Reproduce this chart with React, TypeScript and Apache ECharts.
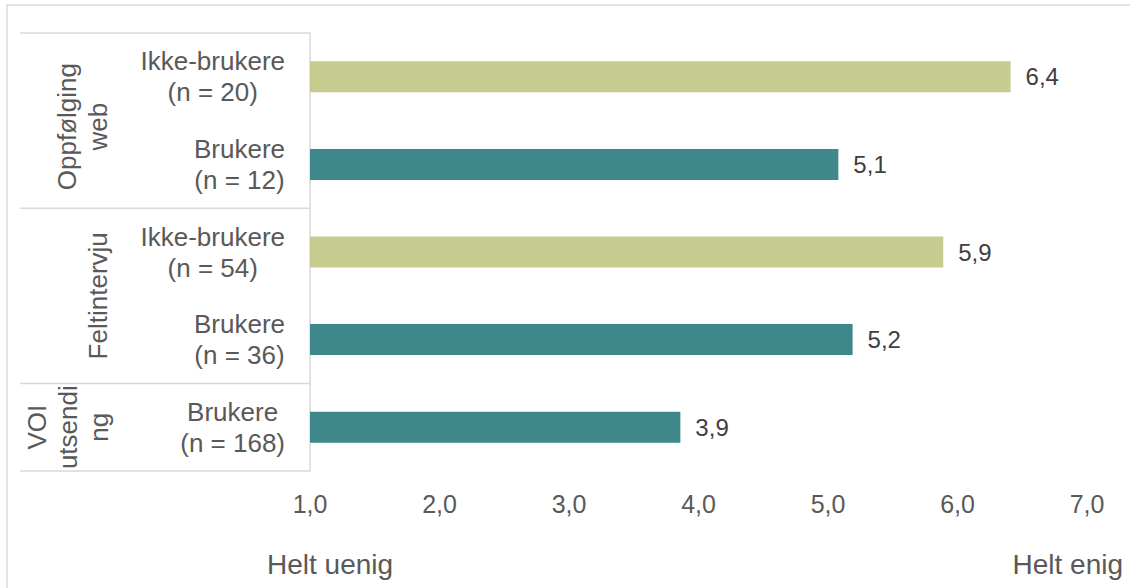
import React, { useEffect, useRef } from "react";
import * as echarts from "echarts";

const categories = [
  "Ikke-brukere\n(n = 20)",
  "Brukere\n(n = 12)",
  "Ikke-brukere\n(n = 54)",
  "Brukere\n(n = 36)",
  "Brukere\n(n = 168)",
];
const userType = ["ikke", "bruker", "ikke", "bruker", "bruker"];
const values = [6.41, 5.08, 5.89, 5.19, 3.86];
const groupNames = ["Oppfølging\nweb", "Feltintervju", "VOI\nutsendi\nng"];
const groupSizes = [2, 2, 1];
const groupLabelX = [82, 98, 68];
const axisMin = 1;
const axisMax = 7;
const axisInterval = 1;
const leftLabel = "Helt uenig";
const rightLabel = "Helt enig";

const COLORS: Record<string, string> = { ikke: "#C6CC8F", bruker: "#3E878A" };
const TEXT = "#595959";
const LINE = "#D9D9D9";
const FONT = "'Liberation Sans', Arial, sans-serif";

const GRID_LEFT = 310;
const GRID_TOP = 33;
const GRID_H = 438;
const GRID_RIGHT = 43;

const fmt = (v: number) => v.toFixed(1).replace(".", ",");

export default function App() {
  const ref = useRef<HTMLDivElement>(null);
  useEffect(() => {
    if (!ref.current) return;
    const chart = echarts.init(ref.current, undefined, { renderer: "svg" });
    const band = GRID_H / categories.length;
    const graphics: any[] = [
      {
        type: "rect",
        shape: { x: 7, y: 5, width: 1130, height: 620 },
        style: { fill: "none", stroke: LINE, lineWidth: 1.5 },
        silent: true,
      },
    ];
    let idx = 0;
    const bounds: number[] = [GRID_TOP];
    groupSizes.forEach((n, gi) => {
      const top = GRID_TOP + idx * band;
      const bottom = GRID_TOP + (idx + n) * band;
      bounds.push(bottom);
      graphics.push({
        type: "text",
        x: groupLabelX[gi],
        y: (top + bottom) / 2 + (gi === 0 ? 6 : 0),
        rotation: Math.PI / 2,
        style: {
          text: groupNames[gi],
          fill: TEXT,
          font: `26px ${FONT}`,
          fontSize: 26,
          fontFamily: FONT,
          lineHeight: 31,
          align: "center",
          verticalAlign: "middle",
          textAlign: "center",
          textVerticalAlign: "middle",
        },
        silent: true,
      });
      idx += n;
    });
    bounds.forEach((y) => {
      graphics.push({
        type: "line",
        shape: { x1: 20, y1: y, x2: GRID_LEFT, y2: y },
        style: { stroke: LINE, lineWidth: 1.5 },
        silent: true,
      });
    });
    graphics.push({
      type: "text",
      left: 267,
      top: 550,
      style: { text: leftLabel, fill: TEXT, fontSize: 28, fontFamily: FONT },
    });
    graphics.push({
      type: "text",
      right: 7,
      top: 550,
      style: { text: rightLabel, fill: TEXT, fontSize: 28, fontFamily: FONT },
    });

    chart.setOption({
      animation: false,
      backgroundColor: "#ffffff",
      grid: { left: GRID_LEFT, top: GRID_TOP, height: GRID_H, right: GRID_RIGHT, containLabel: false },
      xAxis: {
        type: "value",
        min: axisMin,
        max: axisMax,
        interval: axisInterval,
        axisLine: { show: false },
        axisTick: { show: false },
        splitLine: { show: false },
        axisLabel: {
          color: TEXT,
          fontSize: 25,
          fontFamily: FONT,
          margin: 20,
          formatter: (v: number) => fmt(v),
        },
      },
      yAxis: {
        type: "category",
        inverse: true,
        data: categories,
        axisLine: { show: true, lineStyle: { color: LINE, width: 1.5 } },
        axisTick: { show: false },
        axisLabel: {
          margin: 25,
          align: "right",
          color: TEXT,
          fontSize: 26,
          fontFamily: FONT,
          lineHeight: 31,
          formatter: (v: string) => v.split("\n").map((l) => `{c|${l}}`).join("\n"),
          rich: {
            c: { align: "center", color: TEXT, fontSize: 26, fontFamily: FONT, lineHeight: 31 },
          },
        },
      },
      series: [
        {
          type: "bar",
          barWidth: 31,
          data: values.map((v, i) => ({ value: v, itemStyle: { color: COLORS[userType[i]] } })),
          label: {
            show: true,
            position: "right",
            distance: 15,
            color: "#404040",
            fontSize: 24,
            fontFamily: FONT,
            formatter: (p: any) => fmt(p.value),
          },
        },
      ],
      graphic: graphics,
    });
    return () => chart.dispose();
  }, []);
  return (
    <div
      ref={ref}
      style={{ position: "absolute", left: 0, top: 0, width: 1130, height: 588 }}
    />
  );
}
